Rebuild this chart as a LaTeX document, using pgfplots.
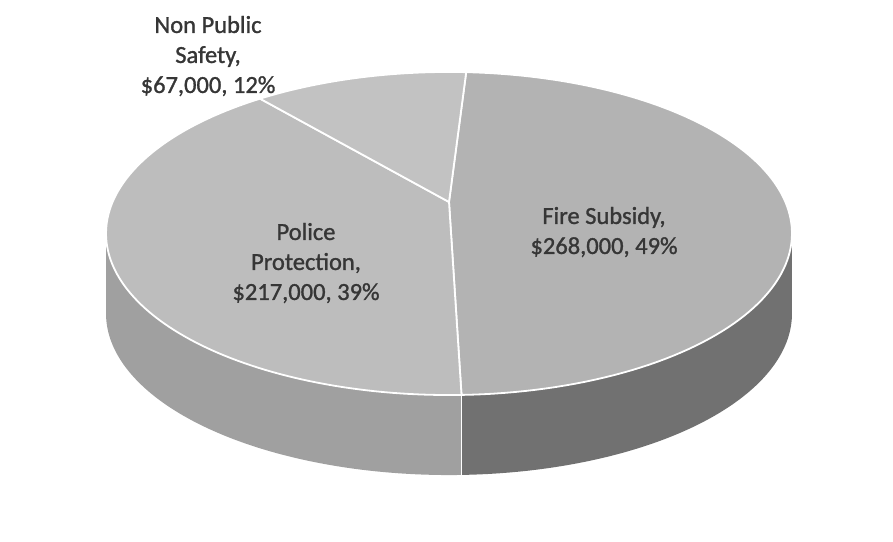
\documentclass[border=0pt]{standalone}
\usepackage{pgfplots}
\pgfplotsset{compat=1.18}
\usepgfplotslibrary{fillbetween}
\usepackage{fontspec}
\setmainfont{Carlito}
\newfontfamily\lblfont{Carlito}[FakeBold=1.2]
\definecolor{fireTop}{HTML}{B3B3B3}
\definecolor{policeTop}{HTML}{BDBDBD}
\definecolor{npTop}{HTML}{C2C2C2}
\definecolor{policeSide}{HTML}{A0A0A0}
\definecolor{fireSide}{HTML}{717171}
\definecolor{lbl}{HTML}{363636}
% data values
\def\vFire{268000}
\def\vPolice{217000}
\def\vNP{67000}
% first slice angle (clockwise from 12 o'clock)
\def\rot{-3.5}
\edef\tot{\fpeval{\vFire+\vPolice+\vNP}}
\edef\aA{\fpeval{90+\rot}}
\edef\aB{\fpeval{round(\aA-360*\vFire/\tot,4)}}
\edef\aC{\fpeval{round(\aB-360*\vPolice/\tot,4)}}
\edef\aD{\fpeval{round(\aC-360*\vNP/\tot,4)}}
% perspective projection constants
\def\cx{449}
\def\k{0.195}
\edef\tL{\fpeval{round(-180+asind(\k),4)}}
\edef\tR{\fpeval{round(-asind(\k),4)}}
\edef\bx{\fpeval{round(\cx+336.4*cosd(\aB)/(1+\k*sind(\aB)),3)}}
\edef\by{\fpeval{round(339+155.4*sind(\aB)/(1+\k*sind(\aB)),3)}}
\begin{document}
\begin{tikzpicture}
\begin{axis}[
  width=893pt, height=541pt, scale only axis,
  xmin=0, xmax=893, ymin=0, ymax=541,
  axis lines=none, ticks=none, clip=false,
  samples=120,
  declare function={
    px(\t)=\cx+336.4*cos(\t)/(1+\k*sin(\t));
    py(\t)=339+155.4*sin(\t)/(1+\k*sin(\t));
  },
]
\path (rel axis cs:0,0) rectangle (rel axis cs:1,1);
% sides
\addplot[name path=pt, draw=none, domain=\tL:\aB] ({px(x)},{py(x)});
\addplot[name path=pb, draw=none, domain=\tL:\aB] ({px(x)},{py(x)-80});
\addplot[policeSide] fill between[of=pt and pb];
\addplot[name path=ft, draw=none, domain=\aB:\tR] ({px(x)},{py(x)});
\addplot[name path=fb, draw=none, domain=\aB:\tR] ({px(x)},{py(x)-80});
\addplot[fireSide] fill between[of=ft and fb];
\addplot[white, line width=1.8pt, domain=0:80, samples=2] ({\bx},{\by-x});
% top faces
\addplot[fill=fireTop, draw=white, line width=1.8pt, domain=\aB:\aA] ({px(x)},{py(x)}) -- (axis cs:\cx,339) -- cycle;
\addplot[fill=policeTop, draw=white, line width=1.8pt, domain=\aC:\aB] ({px(x)},{py(x)}) -- (axis cs:\cx,339) -- cycle;
\addplot[fill=npTop, draw=white, line width=1.8pt, domain=\aD:\aC] ({px(x)},{py(x)}) -- (axis cs:\cx,339) -- cycle;
% labels
\node[align=center, text=lbl, font=\lblfont\fontsize{24.5}{30}\selectfont] at (axis cs:604,309) {Fire Subsidy,\\\$268,000, 49\%};
\node[align=center, text=lbl, font=\lblfont\fontsize{24.5}{30}\selectfont] at (axis cs:306,278) {Police\\Protection,\\\$217,000, 39\%};
\node[align=center, text=lbl, font=\lblfont\fontsize{24.5}{30}\selectfont] at (axis cs:208,485) {Non Public\\Safety,\\\$67,000, 12\%};
\end{axis}
\end{tikzpicture}
\end{document}
